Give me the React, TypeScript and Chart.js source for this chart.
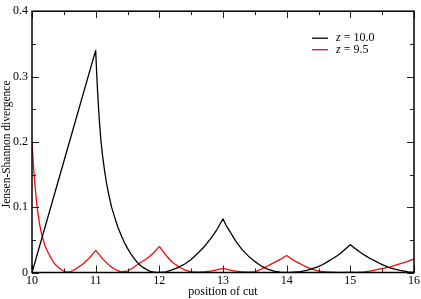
import React, { useEffect, useRef } from "react";
import { Chart, registerables } from "chart.js";

Chart.register(...registerables);

// z = 10.0 (black)
const blackX = [
  10, 11,
  11.01, 11.02, 11.03, 11.04, 11.06, 11.08, 11.1, 11.12, 11.14, 11.17, 11.2, 11.25, 11.3, 11.35, 11.4, 11.45,
  11.5, 11.55, 11.6, 11.65, 11.7, 11.75, 11.8, 11.85, 11.9, 11.95, 12,
  12.1, 12.2, 12.3, 12.4, 12.5, 12.6, 12.7, 12.8, 12.9, 13,
  13.05, 13.1, 13.2, 13.3, 13.4, 13.5, 13.6, 13.7, 13.8, 13.9, 14,
  14.1, 14.2, 14.3, 14.4, 14.5, 14.6, 14.7, 14.8, 14.9, 15,
  15.05, 15.1, 15.2, 15.3, 15.4, 15.5, 15.6, 15.7, 15.8, 15.9, 16,
];
const blackY = [
  0, 0.34,
  0.318, 0.297, 0.278, 0.26, 0.23, 0.205, 0.186, 0.17, 0.156, 0.137, 0.122, 0.1, 0.084, 0.069, 0.057, 0.046,
  0.037, 0.029, 0.022, 0.016, 0.011, 0.0075, 0.0045, 0.0022, 0.0008, 0.0002, 0,
  0.001, 0.004, 0.008, 0.013, 0.02, 0.029, 0.039, 0.051, 0.065, 0.082,
  0.072, 0.064, 0.048, 0.035, 0.025, 0.017, 0.01, 0.005, 0.002, 0.0005, 0,
  0.0005, 0.001, 0.003, 0.006, 0.009, 0.014, 0.02, 0.026, 0.034, 0.0425,
  0.0385, 0.035, 0.028, 0.022, 0.017, 0.012, 0.008, 0.005, 0.003, 0.001, 0,
];

// z = 9.5 (red)
const redX = [
  10, 10.025, 10.05, 10.075, 10.1, 10.125, 10.15, 10.2, 10.25, 10.3, 10.35, 10.4, 10.45, 10.5, 10.55,
  10.6, 10.7, 10.8, 10.9, 11,
  11.1, 11.2, 11.3, 11.4, 11.5, 11.6, 11.7, 11.8, 11.9, 12,
  12.1, 12.2, 12.3, 12.4, 12.5, 12.6, 12.7, 12.8, 12.9, 13,
  13.1, 13.2, 13.3, 13.4, 13.5, 13.6, 13.7, 13.8, 13.9, 14,
  14.1, 14.2, 14.3, 14.4, 14.5, 14.6, 14.7, 14.8, 14.9, 15,
  15.1, 15.2, 15.3, 15.4, 15.5, 15.6, 15.7, 15.8, 15.9, 16,
];
const redY = [
  0.198, 0.16, 0.13, 0.105, 0.086, 0.071, 0.059, 0.042, 0.031, 0.022, 0.014, 0.009, 0.005, 0.002, 0.0005,
  0.001, 0.006, 0.013, 0.022, 0.034,
  0.022, 0.012, 0.005, 0.001, 0.002, 0.008, 0.015, 0.021, 0.029, 0.04,
  0.027, 0.016, 0.009, 0.004, 0.001, 0.0005, 0.001, 0.002, 0.004, 0.006,
  0.004, 0.002, 0.001, 0.0005, 0.001, 0.005, 0.01, 0.015, 0.02, 0.026,
  0.019, 0.014, 0.009, 0.005, 0.002, 0.001, 0.0005, 0.0003, 0.0002, 0.0005,
  0.0003, 0.0005, 0.002, 0.004, 0.006, 0.008, 0.011, 0.014, 0.017, 0.021,
];

const seriesNames = ["10.0", "9.5"];
const seriesColors = ["#000000", "#ff0000"];
const xTickLabels = ["10", "11", "12", "13", "14", "15", "16"];
const yTickLabels = ["0", "0.1", "0.2", "0.3", "0.4"];
const xTitle = "position of cut";
const yTitle = "Jensen-Shannon divergence";

const FONT = "'Liberation Serif', 'Times New Roman', serif";

const framePlugin = {
  id: "frameTicksLegend",
  afterDatasetsDraw(chart: any) {
    const { ctx, chartArea: a, scales } = chart;
    const xs = scales.x;
    const ys = scales.y;
    ctx.save();
    // inward ticks
    ctx.strokeStyle = "#222";
    ctx.lineWidth = 1;
    ctx.beginPath();
    for (let i = 0; i <= 12; i++) {
      const v = 10 + i * 0.5;
      const len = i % 2 === 0 ? 7 : 4;
      const px = Math.round(xs.getPixelForValue(v)) + 0.5;
      ctx.moveTo(px, a.bottom);
      ctx.lineTo(px, a.bottom - len);
      ctx.moveTo(px, a.top);
      ctx.lineTo(px, a.top + len);
    }
    for (let i = 0; i <= 8; i++) {
      const v = i * 0.05;
      const len = i % 2 === 0 ? 7 : 4;
      const py = Math.round(ys.getPixelForValue(v)) + 0.5;
      ctx.moveTo(a.left, py);
      ctx.lineTo(a.left + len, py);
      ctx.moveTo(a.right, py);
      ctx.lineTo(a.right - len, py);
    }
    ctx.stroke();
    // frame
    ctx.strokeStyle = "#000";
    ctx.lineWidth = 1.5;
    ctx.strokeRect(a.left, a.top, a.right - a.left, a.bottom - a.top);
    // y axis title
    ctx.fillStyle = "#000";
    ctx.font = `11.5px ${FONT}`;
    ctx.textAlign = "center";
    ctx.textBaseline = "middle";
    ctx.translate(7, (a.top + a.bottom) / 2 + 2.5);
    ctx.rotate(-Math.PI / 2);
    ctx.fillText(yTitle, 0, 0);
    ctx.setTransform(1, 0, 0, 1, 0, 0);
    // legend
    const lx0 = a.right - 102;
    const lx1 = a.right - 86;
    const ty = [a.top + 27, a.top + 38.5];
    chart.data.datasets.forEach((ds: any, i: number) => {
      ctx.strokeStyle = ds.borderColor;
      ctx.lineWidth = 1.3;
      ctx.beginPath();
      ctx.moveTo(lx0, ty[i]);
      ctx.lineTo(lx1, ty[i]);
      ctx.stroke();
      ctx.fillStyle = "#000";
      ctx.textBaseline = "middle";
      ctx.textAlign = "left";
      ctx.font = `italic 12px ${FONT}`;
      const tx = a.right - 78;
      ctx.fillText("z", tx, ty[i]);
      const zw = ctx.measureText("z").width;
      ctx.font = `12px ${FONT}`;
      ctx.fillText(" = " + ds.label, tx + zw, ty[i]);
    });
    ctx.restore();
  },
};

export default function App() {
  const ref = useRef<HTMLCanvasElement>(null);
  useEffect(() => {
    document.body.style.margin = "0";
    const canvas = ref.current;
    if (!canvas) return;
    const series = [
      { xs: blackX, ys: blackY },
      { xs: redX, ys: redY },
    ];
    const chart = new Chart(canvas, {
      type: "line",
      data: {
        datasets: series.map((s, i) => ({
          label: seriesNames[i],
          data: s.xs.map((x, j) => ({ x, y: s.ys[j] })),
          borderColor: seriesColors[i],
          backgroundColor: seriesColors[i],
          borderWidth: 1.3,
          borderJoinStyle: "round" as const,
          borderCapStyle: "round" as const,
          pointRadius: 0,
          tension: 0.0001,
          fill: false,
        })),
      },
      options: {
        responsive: false,
        animation: false,
        layout: { padding: { left: 0, right: 6, top: 5, bottom: 0 } },
        plugins: {
          legend: { display: false },
          tooltip: { enabled: false },
        },
        scales: {
          x: {
            type: "linear",
            min: 10,
            max: 16,
            afterFit: (s: any) => {
              s.height = 26.5;
            },
            afterBuildTicks: (s: any) => {
              s.ticks = xTickLabels.map((t) => ({ value: Number(t) }));
            },
            ticks: {
              color: "#000",
              font: { family: FONT, size: 12 },
              padding: 1,
              maxRotation: 0,
              autoSkip: false,
              callback: (v: any) => xTickLabels.find((t) => Number(t) === v) ?? "",
            },
            grid: { display: false, drawTicks: false },
            border: { display: false },
            title: {
              display: true,
              text: xTitle,
              color: "#000",
              font: { family: FONT, size: 12 },
              padding: 0,
            },
          },
          y: {
            type: "linear",
            min: 0,
            max: 0.4,
            afterFit: (s: any) => {
              s.width = 32;
            },
            afterBuildTicks: (s: any) => {
              s.ticks = yTickLabels.map((t) => ({ value: Number(t) }));
            },
            ticks: {
              color: "#000",
              font: { family: FONT, size: 12 },
              padding: 4,
              autoSkip: false,
              callback: (v: any) => yTickLabels.find((t) => Math.abs(Number(t) - v) < 1e-9) ?? "",
            },
            grid: { display: false, drawTicks: false },
            border: { display: false },
            title: { display: false },
          },
        },
      },
      plugins: [framePlugin],
    });
    return () => chart.destroy();
  }, []);
  return (
    <div style={{ position: "absolute", left: 0, top: 0, width: 421, height: 299, background: "#fff" }}>
      <canvas ref={ref} width={421} height={299} />
    </div>
  );
}
